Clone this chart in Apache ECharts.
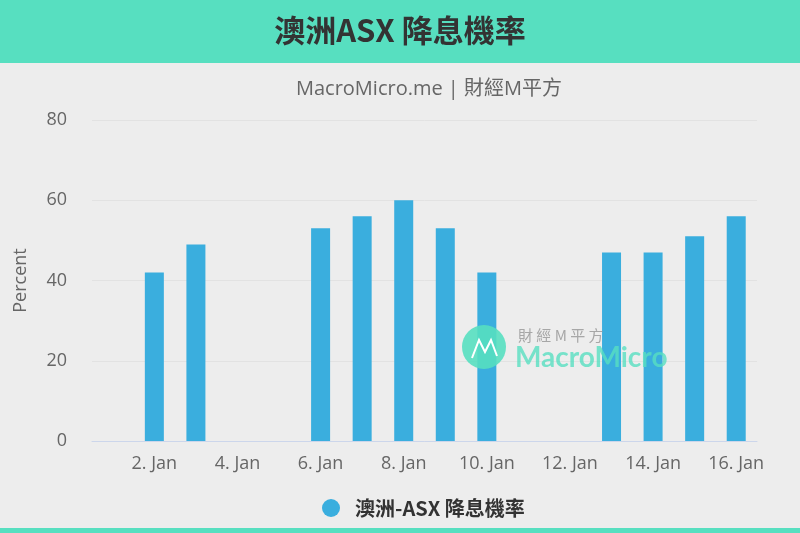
<!DOCTYPE html>
<html><head><meta charset="utf-8">
<script src="https://cdn.jsdelivr.net/npm/echarts@6/dist/echarts.min.js"></script>
<style>html,body{margin:0;padding:0;background:#ededed}#c{width:800px;height:533px}</style>
</head><body><div id="c"></div>
<script>
const categories = ['1. Jan','2. Jan','3. Jan','4. Jan','5. Jan','6. Jan','7. Jan','8. Jan','9. Jan','10. Jan','11. Jan','12. Jan','13. Jan','14. Jan','15. Jan','16. Jan'];
const values = [null,42,49,null,null,53,56,60,53,42,null,null,47,47,51,56];
const seriesName = '澳洲-ASX 降息機率';
const titleText = '澳洲ASX 降息機率';
const subtitleText = 'MacroMicro.me | 財經M平方';
const font = '"Noto Sans CJK TC","Open Sans",sans-serif';
const latin = '"Open Sans",sans-serif';
const chart = echarts.init(document.getElementById('c'), null, {renderer:'canvas'});
const everyOther = (i) => i % 2 === 1;
chart.setOption({
  backgroundColor:'#ededed',
  animation:false,
  title:[
    {text:titleText,left:'center',top:10,textStyle:{fontFamily:font,fontSize:31,fontWeight:'bold',color:'#333'}},
    {text:subtitleText,left:424,textAlign:'center',top:74,textStyle:{fontFamily:'"Open Sans","Noto Sans CJK TC",sans-serif',fontSize:20,fontWeight:'normal',color:'#666'}}
  ],
  graphic:[
    {type:'rect',z:-1,shape:{x:0,y:0,width:800,height:63},style:{fill:'#57dfc0'},silent:true},
    {type:'rect',z:-1,shape:{x:0,y:528,width:800,height:5},style:{fill:'#57dfc0'},silent:true},
    {type:'circle',z:100,silent:true,shape:{cx:484,cy:347,r:22},style:{fill:'#57dfc0',opacity:0.9}},
    {type:'polyline',z:101,silent:true,shape:{points:[[472,358],[479,340],[485,352],[491,340],[497,356]]},style:{stroke:'#fff',lineWidth:2,fill:null}},
    {type:'text',z:100,silent:true,style:{x:518,y:328,text:'財 經 M 平 方',fill:'#9a9a9a',font:'15px '+font,opacity:0.85}},
    {type:'text',z:100,silent:true,style:{x:515,y:358,text:'MacroMicro',fill:'#57dfc0',font:'bold 28px Lato,sans-serif',opacity:0.8,verticalAlign:'middle'}}
  ],
  grid:{left:92,right:43,top:120,bottom:92},
  legend:{bottom:10,left:317,icon:'circle',itemWidth:18,itemHeight:18,itemGap:14,
    textStyle:{fontFamily:font,fontSize:20,fontWeight:'bold',color:'#333',padding:[0,0,0,10]}},
  xAxis:{type:'category',data:categories,
    axisLine:{lineStyle:{color:'#ccd6eb'}},
    axisTick:{alignWithLabel:true,interval:everyOther,length:10,lineStyle:{color:'#ccd6eb'}},
    axisLabel:{interval:everyOther,color:'#666',fontSize:18,fontFamily:latin,margin:14}},
  yAxis:{type:'value',min:0,max:80,interval:20,name:'Percent',nameLocation:'middle',nameGap:62,
    nameTextStyle:{color:'#666',fontSize:18,fontFamily:latin},
    axisLabel:{color:'#666',fontSize:18,fontFamily:latin,margin:25},
    splitLine:{lineStyle:{color:'#e2e2e2'}},axisLine:{show:false},axisTick:{show:false}},
  series:[{name:seriesName,type:'bar',data:values,barWidth:19,z:2,itemStyle:{color:'#3aaede'}}]
});
</script></body></html>
